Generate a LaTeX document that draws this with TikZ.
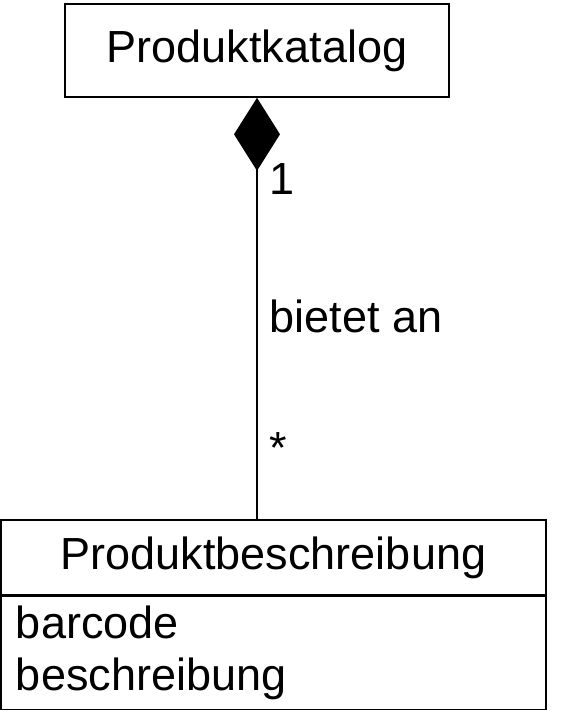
\documentclass[tikz,border=0pt]{standalone}
\usepackage{fontspec}
\setmainfont{Liberation Sans}
\usetikzlibrary{arrows.meta,positioning}

\begin{document}
\begin{tikzpicture}[x=1pt,y=-1pt,line width=1.6pt,font=\fontsize{45}{52}\selectfont,
    klasse/.style={draw,rectangle,inner sep=0pt},
    mult/.style={anchor=base west,inner sep=0pt,xshift=12pt}]
  \useasboundingbox (0,0) rectangle (561,721);
  \node[klasse,minimum width=384pt,minimum height=93pt] (katalog) at (257,50.5) {Produktkatalog}; % whole
  \node[klasse,minimum width=545pt,minimum height=75pt] (beschr) at (273.5,557.5) {Produktbeschreibung}; % part, name
  \node[klasse,below=0pt of beschr,minimum width=545pt,minimum height=113pt,text width=515pt,inner xsep=15pt,align=left] (attribute) {barcode\\beschreibung}; % part, attributes
  \draw[{Diamond[length=73pt,width=46pt]}-] (katalog.south) -- (katalog.south |- beschr.north)
    node[mult,pos=0.23] (eins) {1}
    node[mult,pos=0.558] (assoc) {bietet an}
    node[mult,pos=0.868] (viele) {*}; % composition
\end{tikzpicture}
\end{document}
